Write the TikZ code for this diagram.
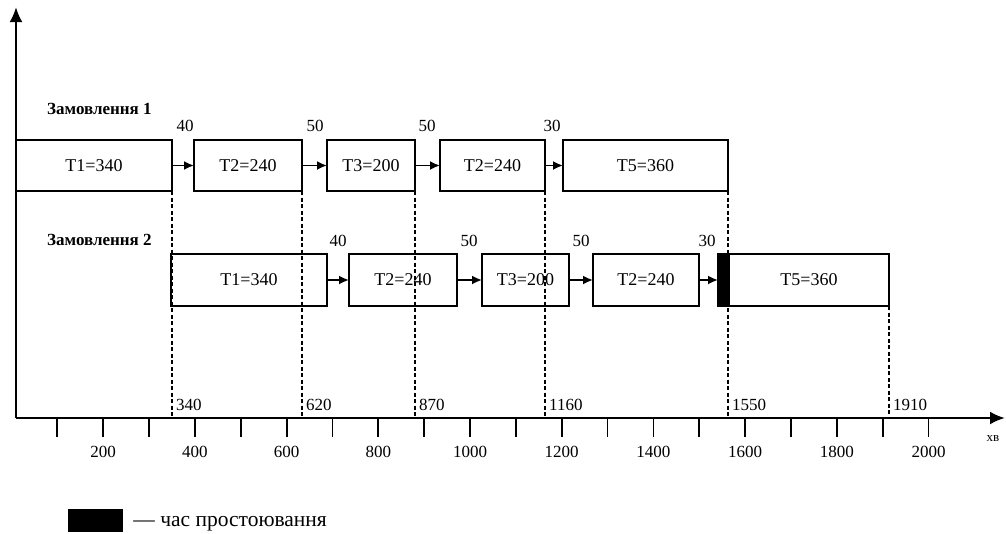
\documentclass[tikz,border=0pt]{standalone}
\usepackage{fontspec}
\setmainfont{Liberation Serif}
\usetikzlibrary{arrows.meta}
\begin{document}
\begin{tikzpicture}[x=1pt,y=-1pt,
  box/.style={draw, line width=2.2pt, inner sep=0pt, outer sep=0pt, anchor=north west,
              font=\fontsize{18}{20}\selectfont},
  idlebox/.style={draw, fill=black, line width=1.5pt, inner sep=0pt, outer sep=0pt, anchor=north west},
  arr/.style={-{Latex[length=10pt,width=9pt]}, line width=1.8pt},
  axis/.style={-{Latex[length=15pt,width=13pt]}, line width=2.5pt},
  guide/.style={line width=1.5pt, dash pattern=on 4pt off 2.5pt},
  tickmark/.style={line width=1.8pt},
  lab/.style={font=\fontsize{17}{20}\selectfont, inner sep=0pt},
  order/.style={font=\fontsize{17}{20}\selectfont\bfseries, inner sep=0pt, anchor=west},
]
\useasboundingbox (0,0) rectangle (1006,533);

% axes
\coordinate (O) at (16,418);
\coordinate (ytip) at (16,7);
\coordinate (xtip) at (1005,418);
\draw[axis] (O) -- (ytip);
\draw[axis] (O) -- (xtip);
\node[font=\fontsize{13}{14}\selectfont, inner sep=0pt] (xunit) at (993,439) {хв};

% ticks and scale labels
\foreach \v in {100,200,...,2000}
  \draw[tickmark] ({11.5+0.4585*\v},418) -- ++(0,19);
\foreach \v in {200,400,...,2000}
  \node[lab] at ({11.5+0.4585*\v},452) {\v};

% order 1
\node[order] (o1) at (47,109) {Замовлення 1};
\node[box, minimum width=156pt, minimum height=51pt] (a1) at (16,140) {T1=340};
\node[box, minimum width=108pt, minimum height=51pt] (b1) at (194,140) {T2=240};
\node[box, minimum width=88pt,  minimum height=51pt] (c1) at (327,140) {T3=200};
\node[box, minimum width=105pt, minimum height=51pt] (d1) at (440,140) {T2=240};
\node[box, minimum width=165pt, minimum height=51pt] (e1) at (563,140) {T5=360};
\draw[arr] (a1.east) -- (b1.west);
\draw[arr] (b1.east) -- (c1.west);
\draw[arr] (c1.east) -- (d1.west);
\draw[arr] (d1.east) -- (e1.west);
\node[lab] at (185,126) {40};
\node[lab] at (315,126) {50};
\node[lab] at (427,126) {50};
\node[lab] at (552,126) {30};

% order 2
\node[order] (o2) at (47,240) {Замовлення 2};
\node[box, minimum width=156pt, minimum height=52pt] (a2) at (171,254) {T1=340};
\node[box, minimum width=108pt, minimum height=52pt] (b2) at (349,254) {T2=240};
\node[box, minimum width=87pt,  minimum height=52pt] (c2) at (482,254) {T3=200};
\node[box, minimum width=106pt, minimum height=52pt] (d2) at (593,254) {T2=240};
\node[idlebox, minimum width=11pt, minimum height=52pt] (w2) at (718,254) {};
\node[box, minimum width=160pt, minimum height=52pt] (e2) at (729,254) {T5=360};
\draw[arr] (a2.east) -- (b2.west);
\draw[arr] (b2.east) -- (c2.west);
\draw[arr] (c2.east) -- (d2.west);
\draw[arr] (d2.east) -- (w2.west);
\node[lab] at (338,241) {40};
\node[lab] at (469,241) {50};
\node[lab] at (581,241) {50};
\node[lab] at (707,241) {30};

% guide lines and completion times
\foreach \n/\t in {a1/340, b1/620, c1/870, d1/1160, e1/1550, e2/1910} {
  \draw[guide] (\n.south east) -- (\n.south east |- O);
  \node[lab, anchor=west] at ([xshift=4pt]\n.south east |- 0,405) {\t};
}

% legend
\node[fill=black, inner sep=0pt, minimum width=55pt, minimum height=23pt] (leg) at (95.5,520) {};
\node[font=\fontsize{21.5}{24}\selectfont, inner sep=0pt, anchor=west] (legtext) at ([xshift=10pt,yshift=-4pt]leg.east) {— час простоювання};
\end{tikzpicture}
\end{document}
